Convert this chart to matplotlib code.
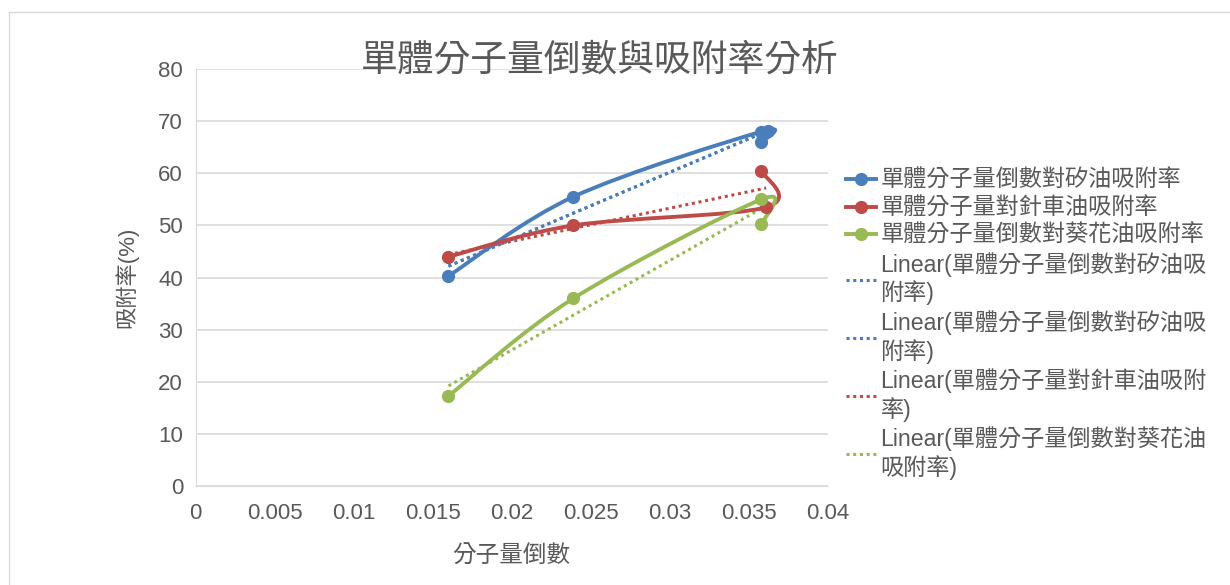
import matplotlib.pyplot as plt
import numpy as np
from matplotlib.path import Path
from matplotlib.patches import PathPatch, Rectangle
from matplotlib.lines import Line2D

plt.rcParams['font.family'] = ['Liberation Sans', 'Noto Sans CJK TC', 'DejaVu Sans']

# data
x_si = [0.016, 0.0239, 0.0358, 0.0358, 0.0362]
y_si = [40.3, 55.5, 68.0, 66.0, 68.2]
x_car = [0.016, 0.0239, 0.0361, 0.0358]
y_car = [44.0, 50.0, 53.5, 60.5]
x_sun = [0.016, 0.0239, 0.0358, 0.0358]
y_sun = [17.3, 36.0, 55.0, 50.2]

names = ['單體分子量倒數對矽油吸附率', '單體分子量對針車油吸附率', '單體分子量倒數對葵花油吸附率']
trend_names = ['Linear(單體分子量倒數對矽油吸\n附率)', 'Linear(單體分子量倒數對矽油吸\n附率)',
               'Linear(單體分子量對針車油吸附\n率)', 'Linear(單體分子量倒數對葵花油\n吸附率)']
colors = ['#4A7EBB', '#BE4B48', '#98B954']
trend_colors = ['#4A7EBB', '#4A7EBB', '#BE4B48', '#98B954']
text_col = '#595959'


def smooth_path(xs, ys):
    # excel style smoothed line: catmull-rom as cubic bezier
    p = np.column_stack([xs, ys])
    n = len(p)
    verts = [p[0]]
    codes = [Path.MOVETO]
    for i in range(n - 1):
        p0 = p[i - 1] if i > 0 else p[i]
        p3 = p[i + 2] if i + 2 < n else p[i + 1]
        b1 = p[i] + (p[i + 1] - p0) / 6
        b2 = p[i + 1] - (p3 - p[i]) / 6
        verts += [b1, b2, p[i + 1]]
        codes += [Path.CURVE4] * 3
    return Path(verts, codes)


fig = plt.figure(figsize=(12.3, 5.85), dpi=100)
fig.patches.append(Rectangle((0.007, -0.01), 1.1, 0.99, transform=fig.transFigure,
                             fill=False, ec='#D9D9D9', lw=1))
ax = fig.add_axes([0.159, 0.169, 0.514, 0.713])

series = [(x_si, y_si), (x_car, y_car), (x_sun, y_sun)]
for (xs, ys), c in zip(series, colors):
    ax.add_patch(PathPatch(smooth_path(xs, ys), fill=False, ec=c, lw=2.8, zorder=3))
    ax.plot(xs, ys, 'o', color=c, ms=8.5, zorder=4)

# linear trendlines
trend_series = [series[0], series[0], series[1], series[2]]
for (xs, ys), c in zip(trend_series, trend_colors):
    k, b = np.polyfit(xs, ys, 1)
    xx = np.array([min(xs), max(xs)])
    ax.plot(xx, k * xx + b, ls=(0, (1, 1.2)), color=c, lw=2.2, zorder=2)

ax.set_xlim(0, 0.04)
ax.set_ylim(0, 80)
ax.set_xticks([0, 0.005, 0.01, 0.015, 0.02, 0.025, 0.03, 0.035, 0.04])
ax.set_xticklabels(['0', '0.005', '0.01', '0.015', '0.02', '0.025', '0.03', '0.035', '0.04'])
ax.set_yticks(range(0, 81, 10))
ax.grid(axis='y', color='#D9D9D9', lw=1.2)
ax.set_axisbelow(True)
for s in ['top', 'right']:
    ax.spines[s].set_visible(False)
ax.spines['bottom'].set_color('#D9D9D9')
ax.spines['left'].set_color('#D9D9D9')
ax.tick_params(length=0, labelsize=16, colors=text_col)
ax.tick_params(axis='x', pad=12)
ax.tick_params(axis='y', pad=9)

ax.set_xlabel('分子量倒數', fontsize=17, color=text_col, labelpad=16)
ax.set_ylabel('吸附率(%)', fontsize=16, color=text_col, labelpad=14)
fig.text(0.488, 0.896, '單體分子量倒數與吸附率分析', fontsize=26.5, color=text_col,
         ha='center', va='center')

handles = [Line2D([], [], color=c, lw=2.8, marker='o', ms=8.5) for c in colors]
handles += [Line2D([], [], color=c, lw=2.2, ls=(0, (1, 1.2))) for c in trend_colors]
fig.legend(handles, names + trend_names, loc='upper left', bbox_to_anchor=(0.68, 0.727),
           frameon=False, fontsize=16.7, labelcolor=text_col, handlelength=1.3,
           handletextpad=0.2, labelspacing=0.2, borderaxespad=0)

fig.savefig('out.png', dpi=100)
